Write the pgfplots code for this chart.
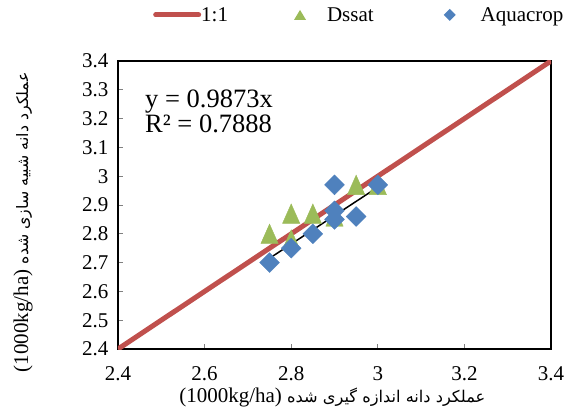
\documentclass[border=0pt]{standalone}
\usepackage{fontspec}
\setmainfont{Liberation Serif}
\newfontfamily\arabicfont[Script=Arabic]{DejaVu Sans}
\TeXXeTstate=1
\usepackage{pgfplots}
\pgfplotsset{compat=1.18}
\definecolor{exred}{RGB}{192,80,77}
\definecolor{exgreen}{RGB}{155,187,89}
\definecolor{exblue}{RGB}{79,129,189}
\begin{document}
\begin{tikzpicture}
\path[use as bounding box] (-118bp,-63bp) rectangle (448bp,349bp);
\begin{axis}[
  scale only axis, width=433bp, height=288bp,
  xmin=2.4, xmax=3.4, ymin=2.4, ymax=3.4,
  xtick={2.4,2.6,2.8,3,3.2,3.4},
  xticklabels={2.4,2.6,2.8,3,3.2,3.4},
  ytick={2.4,2.5,2.6,2.7,2.8,2.9,3,3.1,3.2,3.3,3.4},
  yticklabels={2.4,2.5,2.6,2.7,2.8,2.9,3,3.1,3.2,3.3,3.4},
  xtick pos=left, ytick pos=left,
  tick align=inside, major tick length=5bp,
  tick style={gray, line width=0.8bp},
  axis line style={line width=2bp, black},
  /pgf/number format/assume math mode=true,
  tick label style={font=\fontsize{21bp}{25bp}\selectfont},
  xticklabel style={yshift=-14bp},
  yticklabel style={xshift=-6bp},
  font=\fontsize{21bp}{25bp}\selectfont,
  xlabel={(1000kg/ha) {\arabicfont\fontsize{16.2bp}{20bp}\selectfont\beginR عملکرد دانه اندازه گیری شده\endR}},
  ylabel={(1000kg/ha) {\arabicfont\fontsize{15.8bp}{20bp}\selectfont\beginR عملکرد دانه شبیه سازی شده\endR}},
  xlabel style={at={(axis description cs:0.495,-0.17)}, anchor=center},
  ylabel style={at={(axis description cs:-0.219,0.44)}, anchor=center},
  legend style={draw=none, fill=none, at={(axis description cs:0.0739,1.16)}, anchor=west,
    font=\fontsize{21bp}{25bp}\selectfont,
    nodes={inner sep=0pt},
    /tikz/every even column/.style={column sep=0pt}},
  legend columns=-1,
  legend cell align=left,
]
\addplot[exred, line width=5bp,
  legend image code/.code={\draw[exred, line width=5bp, line cap=round] (2bp,0) -- (45bp,0); \path[draw=none, fill=none] (0,-5bp) rectangle (42bp,5bp);}]
  coordinates {(2.4,2.4) (3.4,3.4)};
\addlegendentry{1:1}
\addplot[only marks, mark=triangle*, mark size=10bp, color=exgreen, fill=exgreen,
  mark options={yshift=-3.25bp, yscale=1.3},
  legend image code/.code={\path[draw=none, fill=none] (0,-5bp) rectangle (99bp,5bp); \fill[exgreen, draw=none] (72bp,5bp) -- (78bp,-5bp) -- (66bp,-5bp) -- cycle;}]
  coordinates {(2.75,2.80) (2.80,2.87) (2.80,2.78) (2.85,2.87) (2.90,2.86) (2.95,2.97) (3.00,2.97)};
\addlegendentry{Dssat}
\addplot[only marks, mark=square*, mark size=7bp, color=exblue, fill=exblue,
  mark options={rotate=45},
  legend image code/.code={\path[draw=none, fill=none] (0,-5bp) rectangle (107bp,5bp); \fill[exblue, draw=none] (76bp,6bp) -- (82bp,0) -- (76bp,-6bp) -- (70bp,0) -- cycle;}]
  coordinates {(2.75,2.70) (2.80,2.75) (2.85,2.80) (2.90,2.97) (2.90,2.88) (2.90,2.85) (2.95,2.86) (3.00,2.97)};
\addlegendentry{Aquacrop}
\addplot[black, line width=1.5bp, forget plot] coordinates {(2.75,2.715075) (3.0,2.9619)};
\node[anchor=base west, inner sep=0pt, font=\fontsize{26.5bp}{30bp}\selectfont] at (axis cs:2.4624,3.237) {y = 0.9873x};
\node[anchor=base west, inner sep=0pt, font=\fontsize{26.5bp}{30bp}\selectfont] at (axis cs:2.4624,3.15) {R² = 0.7888};
\end{axis}
\end{tikzpicture}
\end{document}
